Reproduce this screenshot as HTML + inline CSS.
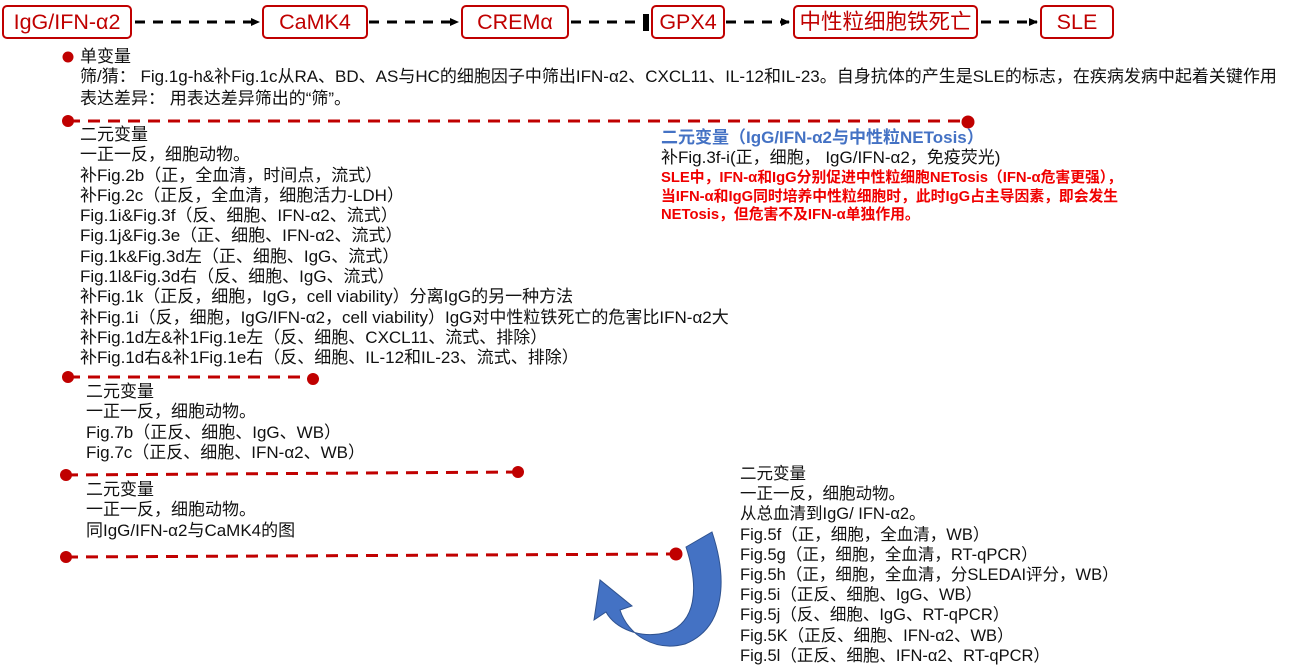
<!DOCTYPE html>
<html><head><meta charset="utf-8"><style>
body{margin:0;width:1291px;height:670px;background:#fff;position:relative;overflow:hidden;font-family:"Liberation Sans","Noto Sans CJK SC",sans-serif;}
.t{position:absolute;font-size:17px;line-height:20px;white-space:nowrap;color:#111;}
.box{position:absolute;top:5px;height:30px;border:2.5px solid #c00000;border-radius:5px;color:#c00000;font-size:21.5px;line-height:30px;text-align:center;box-sizing:content-box;white-space:nowrap;}
</style></head><body>
<svg width="1291" height="670" style="position:absolute;left:0;top:0">
<defs><marker id="a" markerUnits="userSpaceOnUse" markerWidth="10" markerHeight="10" refX="8" refY="5" orient="auto"><path d="M0,1 L9,5 L0,9z" fill="#000"/></marker></defs>
<g stroke="#000" stroke-width="3" stroke-dasharray="10,8" fill="none">
<line x1="135" y1="22" x2="259" y2="22" marker-end="url(#a)"/>
<line x1="369" y1="22" x2="458" y2="22" marker-end="url(#a)"/>
<line x1="571" y1="22" x2="645" y2="22"/>
<line x1="726" y1="22" x2="789" y2="22" marker-end="url(#a)"/>
<line x1="981" y1="22" x2="1037" y2="22" marker-end="url(#a)"/>
</g>
<rect x="643" y="14" width="6" height="17" fill="#000"/>
<g stroke="#c00000" stroke-width="3" stroke-dasharray="12,8" fill="none">
<line x1="68" y1="121" x2="968" y2="121"/>
<line x1="68" y1="377" x2="313" y2="377"/>
<line x1="66" y1="475" x2="518" y2="472"/>
<line x1="66" y1="557" x2="676" y2="554"/>
</g>
<g fill="#c00000">
<circle cx="68" cy="57" r="5.5"/>
<circle cx="68" cy="121" r="6"/><circle cx="968" cy="122" r="6.5"/>
<circle cx="68" cy="377" r="6"/><circle cx="313" cy="379" r="6"/>
<circle cx="66" cy="475" r="6"/><circle cx="518" cy="472" r="6"/>
<circle cx="66" cy="557" r="6"/><circle cx="676" cy="554" r="6.5"/>
</g>
<path d="M686,547 L712,532 C728,580 725,628 685,644 C655,652 628,635 620,610 L632,606 L600,580 L594,620 L606,612 C615,628 640,640 668,632 C695,622 700,590 686,547 Z" fill="#4472c4" stroke="#2f528f" stroke-width="1"/>
</svg>
<div class="box" style="left:2px;width:126px">IgG/IFN-α2</div>
<div class="box" style="left:262px;width:102px">CaMK4</div>
<div class="box" style="left:461px;width:104px">CREMα</div>
<div class="box" style="left:651px;width:70px">GPX4</div>
<div class="box" style="left:793px;width:181px">中性粒细胞铁死亡</div>
<div class="box" style="left:1040px;width:70px">SLE</div>

<div class="t" style="left:80px;top:47px">单变量</div>
<div class="t" style="left:80px;top:67px">筛/猜： Fig.1g-h&amp;补Fig.1c从RA、BD、AS与HC的细胞因子中筛出IFN-α2、CXCL11、IL-12和IL-23。自身抗体的产生是SLE的标志，在疾病发病中起着关键作用</div>
<div class="t" style="left:80px;top:89px">表达差异： 用表达差异筛出的“筛”。</div>

<div class="t" style="left:80px;top:125px;line-height:20.3px">二元变量<br>一正一反，细胞动物。<br>补Fig.2b（正，全血清，时间点，流式）<br>补Fig.2c（正反，全血清，细胞活力-LDH）<br>Fig.1i&amp;Fig.3f（反、细胞、IFN-α2、流式）<br>Fig.1j&amp;Fig.3e（正、细胞、IFN-α2、流式）<br>Fig.1k&amp;Fig.3d左（正、细胞、IgG、流式）<br>Fig.1l&amp;Fig.3d右（反、细胞、IgG、流式）<br>补Fig.1k（正反，细胞，IgG，cell viability）分离IgG的另一种方法<br>补Fig.1i（反，细胞，IgG/IFN-α2，cell viability）IgG对中性粒铁死亡的危害比IFN-α2大<br>补Fig.1d左&amp;补1Fig.1e左（反、细胞、CXCL11、流式、排除）<br>补Fig.1d右&amp;补1Fig.1e右（反、细胞、IL-12和IL-23、流式、排除）</div>

<div class="t" style="left:86px;top:382px;line-height:20.3px">二元变量<br>一正一反，细胞动物。<br>Fig.7b（正反、细胞、IgG、WB）<br>Fig.7c（正反、细胞、IFN-α2、WB）</div>

<div class="t" style="left:86px;top:480px;line-height:20.3px">二元变量<br>一正一反，细胞动物。<br>同IgG/IFN-α2与CaMK4的图</div>

<div class="t" style="left:661px;top:128px;color:#4472c4;font-weight:bold">二元变量（IgG/IFN-α2与中性粒NETosis）</div>
<div class="t" style="left:661px;top:148px">补Fig.3f-i(正，细胞， IgG/IFN-α2，免疫荧光)</div>
<div class="t" style="left:661px;top:169px;font-size:14.8px;line-height:18.5px;color:#f00000;font-weight:bold">SLE中，IFN-α和IgG分别促进中性粒细胞NETosis（IFN-α危害更强），<br>当IFN-α和IgG同时培养中性粒细胞时，此时IgG占主导因素，即会发生<br>NETosis，但危害不及IFN-α单独作用。</div>

<div class="t" style="left:740px;top:464px;line-height:20.2px;font-size:16.5px">二元变量<br>一正一反，细胞动物。<br>从总血清到IgG/ IFN-α2。<br>Fig.5f（正，细胞，全血清，WB）<br>Fig.5g（正，细胞，全血清，RT-qPCR）<br>Fig.5h（正，细胞，全血清，分SLEDAI评分，WB）<br>Fig.5i（正反、细胞、IgG、WB）<br>Fig.5j（反、细胞、IgG、RT-qPCR）<br>Fig.5K（正反、细胞、IFN-α2、WB）<br>Fig.5l（正反、细胞、IFN-α2、RT-qPCR）</div>
</body></html>
